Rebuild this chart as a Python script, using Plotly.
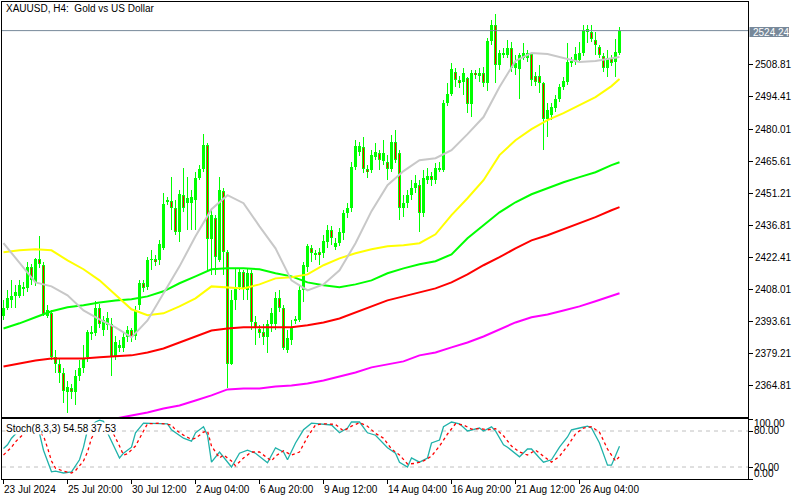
import plotly.graph_objects as go

# ---------------- data ----------------
tick_bars = [0, 16, 32, 48, 64, 80, 96, 112, 128, 144]
tick_labels = ["23 Jul 2024", "25 Jul 20:00", "30 Jul 12:00", "2 Aug 04:00", "6 Aug 20:00",
               "9 Aug 12:00", "14 Aug 04:00", "16 Aug 20:00", "21 Aug 12:00", "26 Aug 04:00"]

price_ticks = [2364.81, 2379.21, 2393.61, 2408.01, 2422.41, 2436.81, 2451.21,
               2465.61, 2480.01, 2494.41, 2508.81]
last_price = 2524.24

opens = [2396.2,2399.8,2403.4,2404.8,2405.2,2408.4,2408.4,2417.8,2411.1,2421.4,
2418.8,2396.2,2397.2,2377.4,2374.6,2370.6,2362.0,2363.8,2362.0,2369.2,
2372.8,2377.4,2388.6,2388.2,2399.8,2389.5,2391.8,2392.6,2377.4,2381.4,
2381.4,2386.4,2389.5,2387.2,2400.8,2410.6,2408.8,2421.4,2421.4,2421.0,
2426.4,2447.6,2447.6,2444.4,2433.6,2450.2,2446.6,2446.6,2448.0,2457.9,
2462.0,2472.8,2430.4,2439.9,2421.0,2452.0,2424.6,2374.6,2403.0,2408.8,
2415.6,2407.5,2415.2,2393.1,2390.0,2389.0,2386.4,2392.6,2392.6,2403.9,
2399.4,2380.5,2385.0,2394.0,2394.0,2407.5,2417.8,2426.4,2423.2,2424.6,
2424.2,2429.1,2434.5,2426.8,2428.6,2433.2,2442.2,2444.4,2462.8,2469.6,
2471.8,2462.0,2461.5,2467.4,2469.2,2465.6,2465.1,2462.0,2474.1,2469.2,
2444.4,2446.6,2450.2,2453.4,2454.8,2442.2,2457.0,2458.8,2457.0,2461.5,
2461.5,2491.6,2495.7,2505.6,2502.0,2501.1,2502.9,2491.2,2505.2,2503.8,
2505.2,2500.6,2519.6,2526.8,2508.8,2513.7,2513.2,2516.4,2507.4,2507.0,
2511.9,2511.9,2513.7,2503.8,2503.8,2500.6,2484.4,2486.2,2489.4,2493.4,
2498.8,2501.1,2509.6,2510.1,2511.0,2514.2,2523.6,2523.6,2520.0,2516.8,
2512.8,2507.4,2511.9,2510.1,2514.2]

highs = [2403.0,2407.5,2412.0,2409.8,2412.0,2411.1,2420.1,2419.2,2421.9,2431.8,
2420.1,2400.8,2398.5,2380.5,2376.9,2372.4,2367.0,2365.6,2371.5,2376.0,
2382.8,2389.5,2391.3,2402.6,2401.6,2396.2,2397.6,2394.9,2386.8,2385.0,
2388.6,2391.3,2390.8,2400.3,2412.0,2412.0,2422.4,2425.5,2423.2,2430.0,
2451.2,2449.4,2458.4,2448.0,2452.5,2462.4,2458.4,2452.5,2460.6,2463.8,
2477.7,2473.7,2443.5,2441.2,2458.4,2453.4,2425.5,2407.5,2417.4,2417.4,
2416.5,2417.4,2416.5,2395.8,2391.8,2392.6,2394.0,2399.4,2406.6,2407.5,
2400.8,2389.5,2394.0,2396.2,2409.8,2420.1,2428.2,2427.8,2425.5,2426.4,
2432.2,2436.8,2436.3,2430.9,2435.4,2443.5,2446.6,2465.1,2475.0,2474.1,
2476.4,2463.8,2470.5,2473.7,2470.5,2475.0,2468.2,2477.2,2479.5,2470.5,
2450.2,2452.5,2457.0,2459.2,2457.0,2461.5,2462.4,2460.6,2464.6,2465.1,
2493.0,2500.6,2509.6,2507.4,2503.8,2507.4,2503.4,2506.5,2506.5,2507.4,
2507.8,2520.9,2529.0,2531.7,2515.5,2516.4,2520.0,2519.1,2513.2,2514.2,
2518.6,2515.5,2514.2,2505.6,2508.8,2501.1,2491.6,2491.6,2495.2,2500.2,
2503.4,2518.6,2512.4,2516.8,2519.1,2526.8,2526.8,2526.8,2523.6,2517.8,
2514.2,2515.5,2513.2,2520.4,2525.8]

lows = [2394.0,2398.5,2399.4,2399.4,2403.9,2404.8,2406.6,2409.8,2409.3,2417.4,
2396.2,2394.9,2376.0,2370.6,2366.1,2357.1,2352.6,2358.9,2355.8,2367.0,
2370.6,2375.1,2385.0,2386.8,2390.4,2387.2,2389.5,2369.2,2376.0,2379.6,
2379.6,2384.1,2384.1,2385.0,2398.5,2406.6,2407.5,2416.5,2418.3,2418.8,
2425.5,2445.8,2434.5,2432.2,2429.1,2442.6,2434.5,2434.5,2434.5,2457.0,
2460.6,2416.5,2414.2,2414.2,2420.1,2414.2,2363.8,2373.8,2398.5,2407.5,
2403.0,2403.0,2389.5,2382.8,2385.9,2382.8,2379.2,2388.6,2389.5,2397.6,
2380.5,2379.2,2382.8,2392.6,2393.1,2402.1,2415.6,2420.1,2421.0,2418.8,
2421.9,2426.4,2427.8,2425.5,2427.3,2430.0,2439.9,2442.6,2461.5,2467.8,
2460.2,2457.9,2460.2,2466.0,2461.5,2463.8,2457.0,2460.6,2464.6,2439.0,
2440.4,2444.4,2448.0,2451.2,2433.6,2440.4,2455.2,2454.3,2455.2,2460.6,
2460.6,2490.3,2494.8,2498.8,2498.4,2495.2,2487.2,2485.4,2502.4,2501.1,
2498.8,2497.0,2517.8,2500.6,2506.5,2511.9,2511.9,2505.6,2504.2,2493.4,
2511.0,2510.1,2499.3,2499.3,2496.2,2470.5,2476.4,2484.0,2487.6,2492.1,
2497.5,2499.8,2507.8,2508.8,2509.6,2512.8,2518.6,2519.1,2513.2,2511.9,
2505.6,2503.4,2508.3,2503.4,2513.2]

closes = [2399.8,2403.9,2405.2,2406.6,2409.8,2408.8,2417.8,2412.0,2421.4,2419.2,
2397.1,2398.5,2377.4,2374.6,2370.6,2362.5,2364.3,2362.0,2369.2,2372.8,
2376.9,2388.6,2387.7,2399.8,2392.6,2394.0,2394.9,2377.4,2384.1,2382.8,
2386.4,2389.5,2386.4,2398.5,2410.6,2408.4,2421.0,2421.6,2420.1,2428.2,
2446.2,2447.7,2444.4,2433.6,2450.7,2444.4,2448.9,2449.4,2457.9,2462.0,
2472.8,2430.4,2441.2,2422.4,2452.5,2424.6,2374.6,2403.0,2408.4,2415.6,
2408.4,2415.2,2393.1,2390.4,2388.2,2386.4,2392.6,2397.2,2403.9,2399.4,
2381.8,2385.9,2390.8,2394.4,2407.5,2418.8,2427.3,2424.2,2424.2,2423.2,
2429.6,2434.5,2430.9,2428.6,2433.6,2442.2,2444.4,2462.8,2472.3,2472.3,
2462.0,2460.6,2468.2,2469.6,2466.0,2469.2,2462.0,2474.1,2466.0,2444.4,
2446.6,2450.2,2453.4,2455.6,2442.2,2457.9,2458.8,2457.0,2462.4,2462.4,
2491.6,2495.7,2507.0,2502.0,2500.6,2505.2,2491.2,2505.2,2504.2,2505.2,
2500.6,2519.6,2526.8,2508.8,2514.2,2514.2,2516.4,2507.4,2509.6,2513.2,
2514.2,2514.2,2502.0,2501.1,2500.6,2484.4,2488.5,2489.8,2493.4,2498.8,
2501.6,2510.1,2510.6,2513.7,2514.2,2524.5,2525.0,2520.4,2517.8,2513.2,
2507.4,2511.9,2509.6,2514.6,2524.24]

ma_bars = list(range(0, 153, 4)) + [154]
ma_gray = [2428.7,2419.7,2411.1,2409.3,2405.3,2398.5,2394.5,2390.9,2386.4,2394.0,
2406.2,2418.3,2431.8,2444.0,2450.3,2446.7,2436.3,2426.4,2412.0,2407.5,
2410.2,2416.5,2428.7,2443.1,2454.8,2461.1,2466.0,2466.9,2470.5,2477.7,
2485.4,2498.9,2510.6,2514.2,2513.7,2511.9,2510.1,2510.6,2511.9,2512.4]
ma_yellow = [2424.6,2425.5,2426.0,2425.5,2421.0,2417.0,2412.0,2405.3,2399.0,2396.3,
2397.2,2400.3,2403.9,2409.3,2408.9,2408.4,2410.2,2412.9,2413.4,2414.7,
2418.8,2421.9,2424.2,2426.0,2427.3,2427.8,2428.7,2432.7,2441.3,2448.9,
2457.0,2468.3,2475.0,2480.0,2484.0,2487.2,2490.8,2494.4,2499.3,2502.5]
ma_green = [2390.4,2392.7,2395.4,2398.1,2399.9,2400.8,2402.1,2403.0,2403.5,2404.8,
2407.1,2410.7,2413.8,2417.0,2417.4,2417.4,2417.0,2415.2,2413.8,2411.1,
2409.8,2408.9,2410.2,2412.0,2415.2,2417.4,2419.2,2420.6,2423.7,2430.9,
2436.8,2442.6,2447.1,2450.7,2453.4,2456.1,2458.4,2460.6,2463.8,2465.1]
ma_red = [2373.3,2374.7,2376.0,2376.9,2376.9,2376.9,2377.4,2377.8,2378.3,2379.6,
2381.4,2384.1,2386.8,2389.5,2390.4,2390.9,2390.9,2390.9,2390.9,2391.8,
2393.1,2394.9,2397.6,2400.3,2403.0,2404.8,2406.6,2408.4,2411.1,2414.7,
2418.8,2422.4,2426.4,2430.0,2432.3,2435.0,2437.7,2440.4,2443.5,2444.9]
ma_magenta = [2343.6,2344.5,2345.4,2346.3,2347.2,2348.1,2349.0,2349.9,2351.3,2352.6,
2354.4,2355.8,2358.0,2360.3,2363.0,2363.4,2363.4,2364.3,2364.8,2365.7,
2367.0,2368.8,2370.6,2372.9,2374.2,2375.6,2378.3,2379.6,2381.9,2384.1,
2386.8,2390.0,2393.1,2395.4,2396.7,2398.5,2400.3,2402.6,2404.8,2406.2]

stoch_k_bars = [0,1,2,3,4,5,6,7,8,9,10,12,13,15,17,19,20,21,23,24,25,26,29,30,32,33,35,36,38,41,
42,45,47,48,50,51,52,54,57,59,61,63,66,68,70,71,73,75,77,79,82,84,86,87,89,91,93,96,98,99,
101,102,104,106,107,109,110,112,114,116,119,120,122,123,125,126,129,131,132,134,135,137,139,141,142,144,146,147,149,151,
152,154]
stoch_k = [51,57,68,75,80,84,86,84,80,76,48,12,13,10,12,32,53,82,95,98,96,77,35,43,53,77,93,93,93,92,
82,68,63,77,87,73,28,45,20,43,48,43,27,52,45,32,60,82,93,92,90,77,85,95,95,77,73,52,43,28,
20,35,28,35,60,65,87,95,92,80,85,80,87,80,57,53,37,50,50,35,28,32,53,70,82,85,88,85,60,23,
23,54.58]
stoch_d_bars = [0,2,3,5,8,10,11,12,13,15,17,18,20,21,22,24,26,27,29,30,31,33,35,36,39,42,43,45,47,48,
50,51,52,54,55,57,58,60,62,64,67,68,70,72,74,76,78,80,83,85,87,89,91,93,95,97,99,101,103,105,
107,109,111,113,115,117,119,121,123,125,127,129,131,133,135,137,139,141,143,145,147,149,151,153,154]
stoch_d = [40,53,62,75,82,72,52,30,18,13,10,14,30,45,68,90,92,82,55,40,42,55,80,92,93,90,82,73,66,68,
78,80,55,35,40,30,22,35,45,45,30,38,47,40,45,70,90,92,91,80,88,94,88,76,68,50,40,25,26,30,
38,55,75,92,90,83,84,82,84,72,55,45,40,48,38,28,38,55,75,85,87,78,50,30,37.53]
stoch_levels = [20, 80]
stoch_ticks = [0, 20, 80, 100]
stoch_label = "Stoch(8,3,3) 54.58 37.53"
title_text = "XAUUSD, H4:\u00a0 Gold vs US Dollar"

# ---------------- geometry / style ----------------
W, H = 800, 500
L, R = 2, 748
MT, MB = 2, 417
ST, SB = 419, 479
FONT = "Liberation Sans, Arial, sans-serif"
FS = 10
Y_RANGE = [2350.6, 2537.1]
PX = (Y_RANGE[1] - Y_RANGE[0]) / (MB - MT)   # price units per pixel
X_RANGE = [(L - 3.5) / 4.0, (R - 3.5) / 4.0]
GREEN = "#00FF00"


def py(y):
    return 1 - y / H


bars = list(range(len(closes)))
body_base = [min(o, c) for o, c in zip(opens, closes)]
body_h = [max(abs(c - o), 0.2) for o, c in zip(opens, closes)]
wick_h = [h - l for h, l in zip(highs, lows)]
bear = [i for i in bars if closes[i] < opens[i] and abs(closes[i] - opens[i]) > 2.2 * PX]

fig = go.Figure()
fig.add_trace(go.Bar(x=bars, y=wick_h, base=lows, width=0.25, marker=dict(color=GREEN, line=dict(width=0)),
                     hoverinfo="skip", showlegend=False, xaxis="x", yaxis="y"))
fig.add_trace(go.Bar(x=bars, y=body_h, base=body_base, width=0.75, marker=dict(color=GREEN, line=dict(width=0)),
                     hoverinfo="skip", showlegend=False, xaxis="x", yaxis="y"))
fig.add_trace(go.Bar(x=bear, y=[abs(closes[i] - opens[i]) - 2 * PX for i in bear],
                     base=[closes[i] + PX for i in bear], width=0.25,
                     marker=dict(color="#FF0000", line=dict(width=0)),
                     hoverinfo="skip", showlegend=False, xaxis="x", yaxis="y"))

for vals, col in [(ma_magenta, "#FF00FF"), (ma_red, "#FF0000"), (ma_green, GREEN),
                  (ma_yellow, "#FFFF00"), (ma_gray, "#C8C8C8")]:
    fig.add_trace(go.Scatter(x=ma_bars, y=vals, mode="lines", line=dict(color=col, width=2),
                             hoverinfo="skip", showlegend=False, xaxis="x", yaxis="y"))

fig.add_trace(go.Scatter(x=stoch_k_bars, y=stoch_k, mode="lines", line=dict(color="#20B2AA", width=1.3),
                         hoverinfo="skip", showlegend=False, xaxis="x2", yaxis="y2"))
fig.add_trace(go.Scatter(x=stoch_d_bars, y=stoch_d, mode="lines",
                         line=dict(color="#FF0000", width=1.3, dash="3px,3px"),
                         hoverinfo="skip", showlegend=False, xaxis="x2", yaxis="y2"))

shapes = []
for lv in stoch_levels:
    shapes.append(dict(type="line", xref="paper", yref="y2", x0=L / W, x1=R / W, y0=lv, y1=lv,
                       line=dict(color="#C0C0C0", width=1, dash="4px,4px"), layer="below"))
shapes.append(dict(type="line", xref="paper", yref="y", x0=L / W, x1=R / W, y0=last_price, y1=last_price,
                   line=dict(color="#778899", width=1), layer="above"))
shapes.append(dict(type="rect", xref="paper", yref="paper", x0=749.5 / W, x1=789 / W,
                   y0=py(37), y1=py(27), fillcolor="#778899", line=dict(width=0), layer="above"))

ann = []
ann.append(dict(x=4 / W, y=py(8), xref="paper", yref="paper", text=title_text, showarrow=False,
                xanchor="left", yanchor="middle", font=dict(family=FONT, size=FS, color="black")))
ann.append(dict(x=750.5 / W, y=py(32), xref="paper", yref="paper", text=f"{last_price:.2f}", showarrow=False,
                xanchor="left", yanchor="middle", font=dict(family=FONT, size=FS, color="white")))
ann.append(dict(x=5 / W, y=py(428), xref="paper", yref="paper", text=stoch_label, showarrow=False,
                xanchor="left", yanchor="middle", bgcolor="white", borderpad=0,
                font=dict(family=FONT, size=FS, color="black")))
for val, ypix in zip(stoch_ticks, [473, 467, 430, 423.5]):
    ann.append(dict(x=752 / W, y=py(ypix), xref="paper", yref="paper", text=f"{val:.2f}", showarrow=False,
                    xanchor="left", yanchor="middle", font=dict(family=FONT, size=FS, color="black")))
for b, lab in zip(tick_bars, tick_labels):
    ann.append(dict(x=b, y=py(489), xref="x2", yref="paper", text=lab, showarrow=False,
                    xanchor="left", yanchor="middle", xshift=-2,
                    font=dict(family=FONT, size=FS, color="black")))

axis_common = dict(showgrid=False, zeroline=False, showline=True, mirror=True, linecolor="black",
                   linewidth=1, fixedrange=True)
fig.update_layout(
    width=W, height=H, autosize=False,
    margin=dict(l=0, r=0, t=0, b=0, pad=0),
    paper_bgcolor="white", plot_bgcolor="white",
    barmode="overlay", bargap=0,
    showlegend=False,
    xaxis=dict(domain=[L / W, R / W], range=X_RANGE, anchor="y", showticklabels=False, ticks="",
               rangeslider=dict(visible=False), **axis_common),
    yaxis=dict(domain=[py(MB), py(MT)], range=Y_RANGE, anchor="x", side="right",
               tickvals=price_ticks, ticktext=[f"{v:.2f}" for v in price_ticks],
               ticks="outside", ticklen=4, tickcolor="black", tickwidth=1,
               tickfont=dict(family=FONT, size=FS, color="black"), automargin=False, **axis_common),
    xaxis2=dict(domain=[L / W, R / W], range=X_RANGE, anchor="y2", tickvals=tick_bars,
                ticks="outside", ticklen=4, tickcolor="black", tickwidth=1, showticklabels=False,
                **axis_common),
    yaxis2=dict(domain=[py(SB), py(ST)], range=[0, 100], anchor="x2", side="right",
                tickvals=stoch_ticks, ticks="outside", ticklen=4, tickcolor="black", tickwidth=1,
                showticklabels=False, automargin=False, **axis_common),
    shapes=shapes, annotations=ann,
    font=dict(family=FONT, size=FS, color="black"),
)

fig.write_html("out.html", config={"displayModeBar": False},
               post_script="document.body.style.margin='0';document.body.style.padding='0';")
